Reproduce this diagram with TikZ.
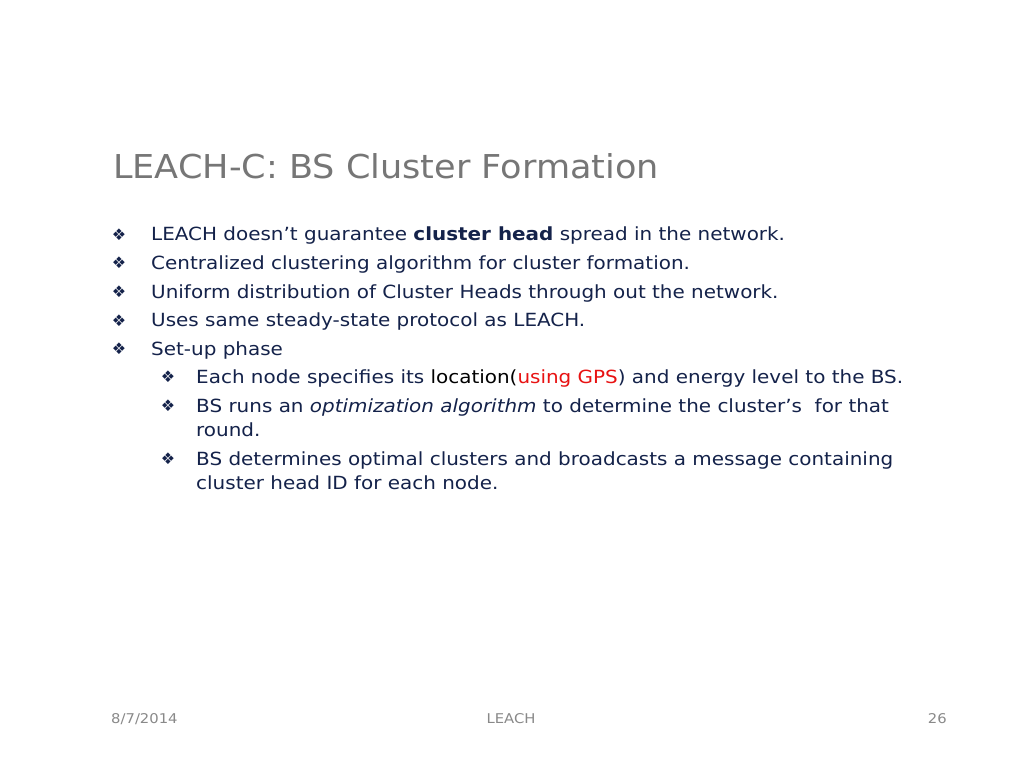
\documentclass[tikz,border=0pt]{standalone}
\usepackage{fontspec}
\setmainfont{DejaVu Sans}[FakeStretch=1.1]
\newfontfamily\headfont{DejaVu Sans}[FakeStretch=1.067]
\newfontfamily\dotfont{DejaVu Sans}
\usetikzlibrary{positioning}

\definecolor{titlegray}{RGB}{118,118,118}
\definecolor{bodyblue}{RGB}{20,34,74}
\definecolor{gpsred}{RGB}{232,18,18}
\definecolor{footgray}{RGB}{137,137,137}

\tikzset{
    title/.style={anchor=base west, inner sep=0pt, text=titlegray, font=\headfont\fontsize{33}{36}\selectfont},
    item/.style={anchor=base west, inner sep=0pt, text=bodyblue, font=\fontsize{18.2}{24}\selectfont},
    dot/.style={anchor=center, inner sep=0pt, text=bodyblue, font=\dotfont\fontsize{16}{16}\selectfont},
    foot/.style={anchor=base, inner sep=0pt, text=footgray, font=\fontsize{13.5}{14}\selectfont}
}

\begin{document}
\begin{tikzpicture}[x=1bp, y=-1bp]
    \useasboundingbox[fill=white] (0,0) rectangle (1024,768);

    % title
    \node[title] (head) at (113,178.3) {LEACH-C: BS Cluster Formation};

    % first level
    \node[item] (l1) at (151,240.7) {LEACH doesn’t guarantee \textbf{cluster head} spread in the network.};
    \node[item] (l2) at (151,269.3) {Centralized clustering algorithm for cluster formation.};
    \node[item] (l3) at (151,298) {Uniform distribution of Cluster Heads through out the network.};
    \node[item] (l4) at (151,326.6) {Uses same steady-state protocol as LEACH.};
    \node[item] (l5) at (151,355.2) {Set-up phase};

    \node[dot] (b1) at (119,234.4) {❖};
    \node[dot] (b2) at (119,263) {❖};
    \node[dot] (b3) at (119,291.7) {❖};
    \node[dot] (b4) at (119,320.3) {❖};
    \node[dot] (b5) at (119,348.9) {❖};

    % second level
    \node[item] (s1) at (196,383.5) {Each node specifies its \textcolor{black}{location(}\textcolor{gpsred}{using GPS}) and energy level to the BS.};
    \node[item] (s2) at (196,412.5) {BS runs an \textit{optimization algorithm} to determine the cluster’s\ \ for that};
    \node[item] (s2b) at (196,436.5) {round.};
    \node[item] (s3) at (196,465.5) {BS determines optimal clusters and broadcasts a message containing};
    \node[item] (s3b) at (196,489.5) {cluster head ID for each node.};

    \node[dot] (c1) at (168,377.2) {❖};
    \node[dot] (c2) at (168,406.2) {❖};
    \node[dot] (c3) at (168,459.2) {❖};

    % footer
    \node[foot, anchor=base west] (date) at (111,723.3) {8/7/2014};
    \node[foot] (name) at (511,723.3) {LEACH};
    \node[foot, anchor=base east] (page) at (947,723.3) {26};
\end{tikzpicture}
\end{document}
